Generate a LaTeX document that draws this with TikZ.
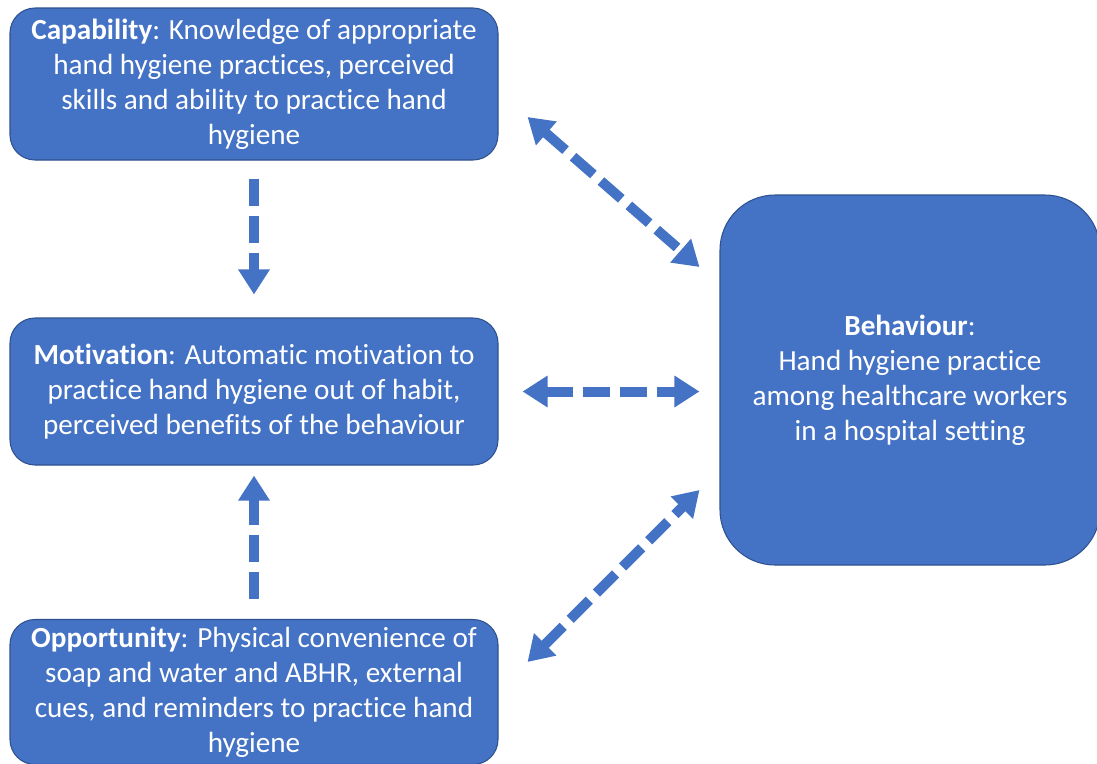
\documentclass[tikz,border=0pt]{standalone}
\usepackage{fontspec}
\setmainfont{Carlito}[Ligatures=NoCommon]
\usetikzlibrary{arrows.meta}
\definecolor{boxblue}{HTML}{4472C4}
\definecolor{edgeblue}{HTML}{2F528F}
\tikzset{
  cbox/.style={draw=edgeblue,line width=0.6pt,fill=boxblue,text=white,rounded corners=0.5cm,
    minimum width=9.76cm,align=center,font=\fontsize{16.6}{20}\selectfont},
  link/.style={draw=boxblue,line width=0.2cm,dash pattern=on 0.54cm off 0.2cm,
    {Triangle[length=0.5cm,width=0.6cm]}-{Triangle[length=0.5cm,width=0.6cm]}},
  oneway/.style={draw=boxblue,line width=0.2cm,dash pattern=on 0.54cm off 0.2cm,
    -{Triangle[length=0.5cm,width=0.6cm]}}
}

\begin{document}
\begin{tikzpicture}
\useasboundingbox (0,0) rectangle (21.94,-15.26);
\node[cbox,minimum height=3.04cm] (cap) at (5.08,-1.68)
  {\textbf{Capability}: Knowledge of appropriate\\hand hygiene practices, perceived\\skills and ability to practice hand\\hygiene};
\node[cbox,minimum height=2.94cm] (mot) at (5.08,-7.83)
  {\textbf{Motivation}: Automatic motivation to\\practice hand hygiene out of habit,\\perceived benefits of the behaviour};
\node[cbox,minimum height=2.9cm] (opp) at (5.08,-13.84)
  {\textbf{Opportunity}: Physical convenience of\\soap and water and ABHR, external\\cues, and reminders to practice hand\\hygiene};
\node[cbox,rounded corners=1.1cm,minimum width=7.6cm,minimum height=7.4cm] (beh) at (18.2,-7.6)
  {\textbf{Behaviour}:\\Hand hygiene practice\\among healthcare workers\\in a hospital setting};

\draw[oneway,shorten <=0.36cm,shorten >=0.46cm] (cap.south) -- (mot.north);
\draw[oneway,shorten <=0.4cm,shorten >=0.2cm] (opp.north) -- (mot.south);
\draw[link,shorten <=0.48cm,shorten >=0.4cm] (mot.east) -- (mot.east -| beh.west);
\draw[link] ([shift={(0.58,-0.66)}]cap.east) -- ([shift={(-0.4,2.26)}]beh.west);
\draw[link] ([shift={(0.58,0.6)}]opp.east) -- ([shift={(-0.4,-2.2)}]beh.west);
\end{tikzpicture}
\end{document}
